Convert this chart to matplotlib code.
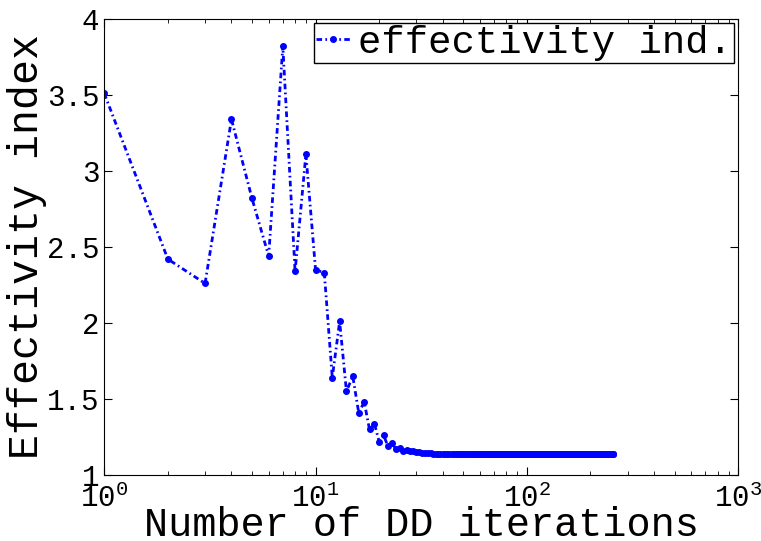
import matplotlib
matplotlib.use("Agg")
from matplotlib import pyplot as plt

plt.rcParams['font.family'] = ['Liberation Mono', 'DejaVu Sans']
plt.rcParams['mathtext.fontset'] = 'custom'
plt.rcParams['mathtext.rm'] = 'Liberation Mono'
plt.rcParams['mathtext.it'] = 'Liberation Mono'

head_values = [3.51, 2.42, 2.26, 3.34, 2.82, 2.44, 3.82, 2.34, 3.11, 2.35,
               2.33, 1.64, 2.01, 1.55, 1.65, 1.41, 1.48, 1.30, 1.335, 1.22,
               1.26, 1.19, 1.21, 1.17, 1.18, 1.16, 1.165, 1.155, 1.155]
mid_values = [1.15, 1.148, 1.146, 1.145, 1.143, 1.142, 1.141, 1.14, 1.14, 1.139]
tail_values = [1.138] * 30 + [1.137] * 50 + [1.136] * 138

effectivity = head_values + mid_values + tail_values
iterations = list(range(1, len(effectivity) + 1))

xticks = [1, 10, 100, 1000]
xtick_labels = [r"$10^{0}$", r"$10^{1}$", r"$10^{2}$", r"$10^{3}$"]
yticks = [1, 1.5, 2, 2.5, 3, 3.5, 4]
ytick_labels = ["1", "1.5", "2", "2.5", "3", "3.5", "4"]

fig = plt.figure(figsize=(7.61, 5.41), dpi=100)
ax = fig.add_axes([0.137, 0.122, 0.833, 0.843])

line, = ax.plot(iterations, effectivity, color="#0000ff", linewidth=2,
                marker=".", markersize=8, label="effectivity ind.")
line.set_dashes((2, 1.2, 0.6, 1.2))

ax.set_xscale("log")
ax.set_xlim(1, 1000)
ax.set_ylim(1, 4)
ax.set_xticks(xticks)
ax.set_xticklabels(xtick_labels)
ax.set_yticks(yticks)
ax.set_yticklabels(ytick_labels)
ax.tick_params(which="both", direction="in", top=True, right=True, labelsize=21)
ax.tick_params(which="major", length=6)
ax.tick_params(which="minor", length=3)
ax.tick_params(axis="x", pad=6)

ax.set_xlabel("Number of DD iterations", fontsize=29, labelpad=-5)
ax.set_ylabel("Effectivity index", fontsize=30, labelpad=0)

leg = ax.legend(loc="upper right", fontsize=28, handlelength=0.9, handletextpad=0.2,
                borderpad=0.05, borderaxespad=0.1, fancybox=False, framealpha=1,
                edgecolor="black")
leg.get_frame().set_linewidth(1)

fig.savefig("out.png", dpi=100)
